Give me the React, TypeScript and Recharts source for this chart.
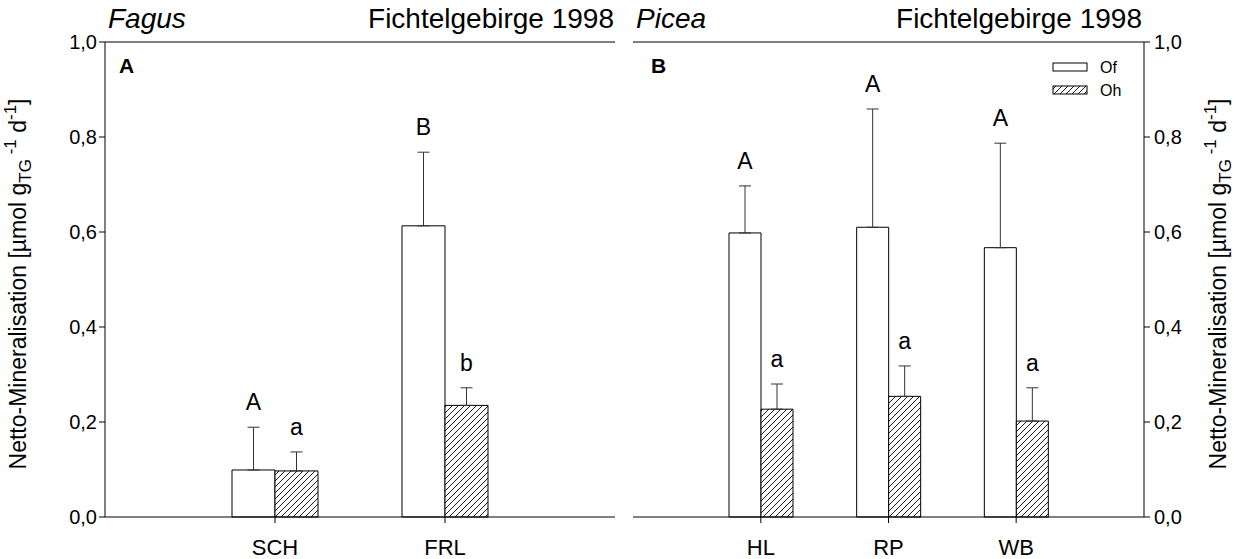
import React from 'react';
import { BarChart, Bar, XAxis, YAxis, ErrorBar, LabelList, ReferenceLine } from 'recharts';

// Fagus panel (A)
const fagusSites = ['SCH', 'FRL'];
const fagusOf = [0.099, 0.613];
const fagusOfErr = [0.09, 0.155];
const fagusOh = [0.097, 0.235];
const fagusOhErr = [0.04, 0.037];
const fagusOfLetters = ['A', 'B'];
const fagusOhLetters = ['a', 'b'];

// Picea panel (B)
const piceaSites = ['HL', 'RP', 'WB'];
const piceaOf = [0.598, 0.61, 0.567];
const piceaOfErr = [0.099, 0.249, 0.22];
const piceaOh = [0.227, 0.254, 0.202];
const piceaOhErr = [0.053, 0.064, 0.07];
const piceaOfLetters = ['A', 'A', 'A'];
const piceaOhLetters = ['a', 'a', 'a'];

const yTicks = [0, 0.2, 0.4, 0.6, 0.8, 1.0];

const FONT = '"Liberation Sans", Arial, sans-serif';
const H = 559;
const TOP = 42;
const BOTTOM = 517;

const buildRows = (
  sites: string[], of: number[], ofErr: number[], oh: number[], ohErr: number[],
  ofL: string[], ohL: string[]
) =>
  sites.map((site, i) => ({
    site,
    of: of[i],
    ofE: ofErr[i],
    ofErr: [0, ofErr[i]],
    ofL: ofL[i],
    oh: oh[i],
    ohE: ohErr[i],
    ohErr: [0, ohErr[i]],
    ohL: ohL[i],
  }));

const fagusRows = buildRows(fagusSites, fagusOf, fagusOfErr, fagusOh, fagusOhErr, fagusOfLetters, fagusOhLetters);
const piceaRows = buildRows(piceaSites, piceaOf, piceaOfErr, piceaOh, piceaOhErr, piceaOfLetters, piceaOhLetters);

const fmt = (v: number) => v.toFixed(1).replace('.', ',');

// letter above the error bar, placed from the bar's own geometry
const letterLabel = (rows: any[], key: 'of' | 'oh') => (p: any) => {
  const x = Number(p.x), y = Number(p.y), w = Number(p.width), h = Number(p.height);
  const r = rows[p.index];
  if (!r) return null;
  const v = r[key];
  const e = r[key + 'E'];
  const top = y + h - (h * (v + e)) / v;
  return (
    <text x={x + w / 2} y={top - 17} textAnchor="middle" fontSize={23} fill="#000" fontFamily={FONT}>
      {r[key + 'L']}
    </text>
  );
};

const Hatch = ({ id }: { id: string }) => (
  <defs>
    <pattern id={id} patternUnits="userSpaceOnUse" width={6} height={6}>
      <rect width={6} height={6} fill="#fff" />
      <path d="M-1,1 l2,-2 M0,6 l6,-6 M5,7 l2,-2" stroke="#000" strokeWidth={0.9} />
    </pattern>
  </defs>
);

const AxisTitle = ({ cx, cy }: { cx: number; cy: number }) => (
  <text transform={`translate(${cx},${cy}) rotate(-90)`} textAnchor="middle" fontSize={23} fill="#000" fontFamily={FONT}>
    Netto-Mineralisation [µmol g
    <tspan dy={5} fontSize={17}>TG</tspan>
    <tspan dy={-15} fontSize={17}>{' -1'}</tspan>
    <tspan dy={10}>{' d'}</tspan>
    <tspan dy={-10} fontSize={17}>-1</tspan>
    <tspan dy={10}>]</tspan>
  </text>
);

const tickStyle = { fill: '#000', fontSize: 20, fontFamily: FONT };
const xTickStyle = { fill: '#000', fontSize: 22, fontFamily: FONT };

const App = () => {
  return (
    <div style={{ position: 'absolute', left: 0, top: 0, width: 1246, height: H, background: '#fff', fontFamily: FONT }}>
      <div style={{ position: 'absolute', left: 0, top: 0 }}>
        <BarChart
          width={625}
          height={H}
          data={fagusRows}
          margin={{ top: TOP, right: 10, bottom: 0, left: 0 }}
          barGap={0}
          barSize={43}
        >
          <Hatch id="hatchA" />
          <XAxis
            dataKey="site"
            padding={{ left: 85, right: 85 }}
            height={H - BOTTOM}
            tick={xTickStyle}
            tickSize={6}
            tickMargin={16}
            axisLine={{ stroke: '#000' }}
            tickLine={{ stroke: '#000' }}
          />
          <YAxis
            domain={[0, 1]}
            ticks={yTicks}
            tickFormatter={fmt}
            width={105}
            tick={tickStyle}
            tickSize={6}
            tickMargin={2}
            axisLine={{ stroke: '#000' }}
            tickLine={{ stroke: '#000' }}
          />
          <YAxis
            yAxisId="r"
            orientation="right"
            mirror
            width={0}
            domain={[0, 1]}
            ticks={yTicks}
            tick={false}
            tickSize={5}
            axisLine={{ stroke: '#000' }}
            tickLine={{ stroke: '#000' }}
          />
          <ReferenceLine y={1} stroke="#000" />
          <Bar dataKey="of" fill="#fff" stroke="#000" strokeWidth={1} isAnimationActive={false}>
            <ErrorBar dataKey="ofErr" direction="y" width={6} stroke="#333" strokeWidth={1} />
            <LabelList dataKey="of" content={letterLabel(fagusRows, 'of')} />
          </Bar>
          <Bar dataKey="oh" fill="url(#hatchA)" stroke="#000" strokeWidth={1} isAnimationActive={false}>
            <ErrorBar dataKey="ohErr" direction="y" width={6} stroke="#333" strokeWidth={1} />
            <LabelList dataKey="oh" content={letterLabel(fagusRows, 'oh')} />
          </Bar>
          <text x={108} y={28} fontSize={28} fontStyle="italic" fill="#000" fontFamily={FONT}>Fagus</text>
          <text x={614} y={28} fontSize={28} textAnchor="end" fill="#000" fontFamily={FONT}>Fichtelgebirge 1998</text>
          <text x={119} y={73} fontSize={21} fontWeight="bold" fill="#000" fontFamily={FONT}>A</text>
          <AxisTitle cx={26} cy={284} />
        </BarChart>
      </div>
      <div style={{ position: 'absolute', left: 620, top: 0 }}>
        <BarChart
          width={626}
          height={H}
          data={piceaRows}
          margin={{ top: TOP, right: 0, bottom: 0, left: 13 }}
          barGap={0}
          barSize={32}
        >
          <Hatch id="hatchB" />
          <XAxis
            dataKey="site"
            padding={{ left: 64, right: 64 }}
            height={H - BOTTOM}
            tick={xTickStyle}
            tickSize={6}
            tickMargin={16}
            axisLine={{ stroke: '#000' }}
            tickLine={{ stroke: '#000' }}
          />
          <YAxis
            orientation="right"
            domain={[0, 1]}
            ticks={yTicks}
            tickFormatter={fmt}
            width={102}
            tick={tickStyle}
            tickSize={6}
            tickMargin={4}
            axisLine={{ stroke: '#000' }}
            tickLine={{ stroke: '#000' }}
          />
          <YAxis
            yAxisId="l"
            orientation="left"
            mirror
            width={0}
            domain={[0, 1]}
            ticks={yTicks}
            tick={false}
            tickSize={5}
            axisLine={{ stroke: '#000' }}
            tickLine={{ stroke: '#000' }}
          />
          <ReferenceLine y={1} stroke="#000" />
          <Bar dataKey="of" fill="#fff" stroke="#000" strokeWidth={1} isAnimationActive={false}>
            <ErrorBar dataKey="ofErr" direction="y" width={6} stroke="#333" strokeWidth={1} />
            <LabelList dataKey="of" content={letterLabel(piceaRows, 'of')} />
          </Bar>
          <Bar dataKey="oh" fill="url(#hatchB)" stroke="#000" strokeWidth={1} isAnimationActive={false}>
            <ErrorBar dataKey="ohErr" direction="y" width={6} stroke="#333" strokeWidth={1} />
            <LabelList dataKey="oh" content={letterLabel(piceaRows, 'oh')} />
          </Bar>
          <text x={16} y={28} fontSize={28} fontStyle="italic" fill="#000" fontFamily={FONT}>Picea</text>
          <text x={522} y={28} fontSize={28} textAnchor="end" fill="#000" fontFamily={FONT}>Fichtelgebirge 1998</text>
          <text x={31} y={73} fontSize={21} fontWeight="bold" fill="#000" fontFamily={FONT}>B</text>
          {/* legend */}
          <rect x={433} y={63} width={34} height={8} fill="#fff" stroke="#000" />
          <text x={480} y={73} fontSize={16} fill="#000" fontFamily={FONT}>Of</text>
          <rect x={433} y={86} width={34} height={8} fill="url(#hatchB)" stroke="#000" />
          <text x={480} y={96} fontSize={16} fill="#000" fontFamily={FONT}>Oh</text>
          <AxisTitle cx={606} cy={284} />
        </BarChart>
      </div>
    </div>
  );
};

export default App;
